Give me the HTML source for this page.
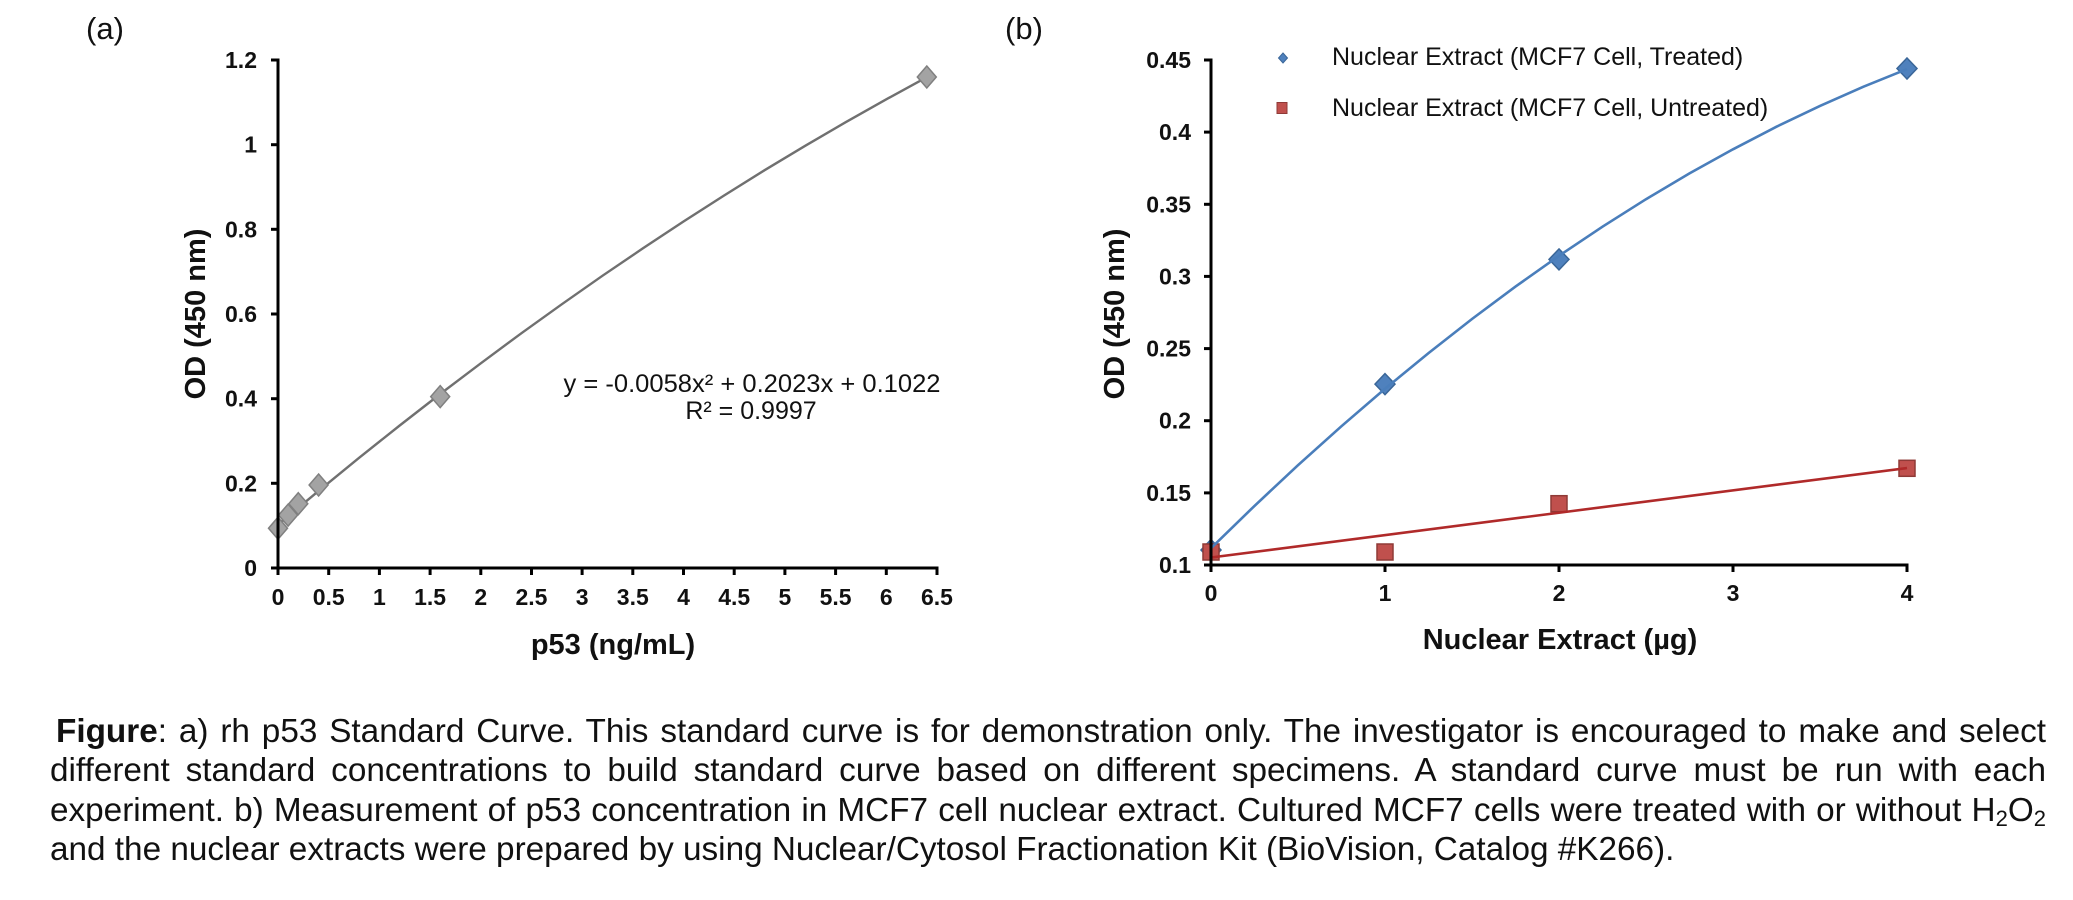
<!DOCTYPE html>
<html>
<head>
<meta charset="utf-8">
<style>
  html, body { margin:0; padding:0; }
  body { width:2073px; height:900px; background:#fff; position:relative; overflow:hidden; }
  svg { position:absolute; left:0; top:0; }
  .cap { position:absolute; font-family:"Liberation Sans", Arial, sans-serif; font-size:33.3px; line-height:40px; color:#111; text-align:justify; text-align-last:justify; }
  .cap b { font-weight:bold; }
  .cap sub { font-size:22px; line-height:0; vertical-align:-5px; }
</style>
</head>
<body>
<svg width="2073" height="900" viewBox="0 0 2073 900" font-family="Liberation Sans, Arial, sans-serif">
  <!-- panel labels -->
  <text x="86" y="39" font-size="31" fill="#111">(a)</text>
  <text x="1005" y="39" font-size="31" fill="#111">(b)</text>

  <!-- ================= Chart A ================= -->
  <polyline fill="none" stroke="#707070" stroke-width="2.4" points="278,524.7 318.6,490.9 359.1,457.8 399.7,425.5 440.2,394.0 480.8,363.3 521.3,333.3 561.9,304.2 602.4,275.8 643.0,248.3 683.5,221.5 724.1,195.5 764.6,170.2 805.2,145.8 845.7,122.2 886.3,99.3 926.8,77.2"/>
  <g fill="#a3a3a3" stroke="#808080" stroke-width="1.5">
    <polygon points="278,517.2 287.5,528.2 278,539.2 268.5,528.2"/>
    <polygon points="288.1,504.1 297.6,515.1 288.1,526.1 278.6,515.1"/>
    <polygon points="298.3,492.7 307.8,503.7 298.3,514.7 288.8,503.7"/>
    <polygon points="318.6,474 328.1,485 318.6,496 309.1,485"/>
    <polygon points="440.2,385.6 449.7,396.6 440.2,407.6 430.7,396.6"/>
    <polygon points="926.8,66 936.3,77 926.8,88 917.3,77"/>
  </g>
  <g stroke="#000" stroke-width="3" fill="none">
    <line x1="278" y1="58.5" x2="278" y2="569.5"/>
    <line x1="276.5" y1="568" x2="938.5" y2="568"/>
    <line x1="271" y1="568" x2="278" y2="568"/>
    <line x1="271" y1="483.3" x2="278" y2="483.3"/>
    <line x1="271" y1="398.7" x2="278" y2="398.7"/>
    <line x1="271" y1="314" x2="278" y2="314"/>
    <line x1="271" y1="229.3" x2="278" y2="229.3"/>
    <line x1="271" y1="144.7" x2="278" y2="144.7"/>
    <line x1="271" y1="60" x2="278" y2="60"/>
    <line x1="278" y1="568" x2="278" y2="575"/>
    <line x1="328.7" y1="568" x2="328.7" y2="575"/>
    <line x1="379.4" y1="568" x2="379.4" y2="575"/>
    <line x1="430.1" y1="568" x2="430.1" y2="575"/>
    <line x1="480.8" y1="568" x2="480.8" y2="575"/>
    <line x1="531.5" y1="568" x2="531.5" y2="575"/>
    <line x1="582.1" y1="568" x2="582.1" y2="575"/>
    <line x1="632.8" y1="568" x2="632.8" y2="575"/>
    <line x1="683.5" y1="568" x2="683.5" y2="575"/>
    <line x1="734.2" y1="568" x2="734.2" y2="575"/>
    <line x1="784.9" y1="568" x2="784.9" y2="575"/>
    <line x1="835.6" y1="568" x2="835.6" y2="575"/>
    <line x1="886.3" y1="568" x2="886.3" y2="575"/>
    <line x1="937" y1="568" x2="937" y2="575"/>
  </g>
  <g font-size="23" font-weight="bold" fill="#111" text-anchor="end">
    <text x="257" y="576">0</text>
    <text x="257" y="491.3">0.2</text>
    <text x="257" y="406.7">0.4</text>
    <text x="257" y="322">0.6</text>
    <text x="257" y="237.3">0.8</text>
    <text x="257" y="152.7">1</text>
    <text x="257" y="68">1.2</text>
  </g>
  <g font-size="23" font-weight="bold" fill="#111" text-anchor="middle">
    <text x="278" y="605">0</text>
    <text x="328.7" y="605">0.5</text>
    <text x="379.4" y="605">1</text>
    <text x="430.1" y="605">1.5</text>
    <text x="480.8" y="605">2</text>
    <text x="531.5" y="605">2.5</text>
    <text x="582.1" y="605">3</text>
    <text x="632.8" y="605">3.5</text>
    <text x="683.5" y="605">4</text>
    <text x="734.2" y="605">4.5</text>
    <text x="784.9" y="605">5</text>
    <text x="835.6" y="605">5.5</text>
    <text x="886.3" y="605">6</text>
    <text x="937" y="605">6.5</text>
  </g>
  <text x="613" y="654" font-size="29" font-weight="bold" fill="#111" text-anchor="middle">p53 (ng/mL)</text>
  <text transform="translate(205,314) rotate(-90)" font-size="29" font-weight="bold" fill="#111" text-anchor="middle">OD (450 nm)</text>
  <g font-size="25" fill="#111" text-anchor="middle">
    <text x="752" y="392" textLength="377" lengthAdjust="spacingAndGlyphs">y = -0.0058x² + 0.2023x + 0.1022</text>
    <text x="751" y="419">R² = 0.9997</text>
  </g>

  <!-- ================= Chart B ================= -->
  <g fill="#4f81bd" stroke="#3a6698" stroke-width="1.5">
    <polygon points="1211,539.5 1221,550 1211,560.5 1201,550"/>
    <polygon points="1385,373.6 1395,384.1 1385,394.6 1375,384.1"/>
    <polygon points="1559,248.9 1569,259.4 1559,269.9 1549,259.4"/>
    <polygon points="1907,58 1917,68.5 1907,79 1897,68.5"/>
  </g>
  <g fill="#c0504d" stroke="#8f3a37" stroke-width="1.5">
    <rect x="1203" y="544" width="16" height="16"/>
    <rect x="1377" y="544" width="16" height="16"/>
    <rect x="1551" y="495.7" width="16" height="16"/>
    <rect x="1899" y="460.3" width="16" height="16"/>
  </g>
  <polyline fill="none" stroke="#4a7ebb" stroke-width="2.6" points="1211,548.2 1254.5,505.9 1298,465.2 1341.5,426.2 1385,388.8 1428.5,353.1 1472,319.0 1515.5,286.6 1559,255.8 1602.5,226.7 1646,199.2 1689.5,173.4 1733,149.3 1776.5,126.7 1820,105.9 1863.5,86.7 1907,69.1"/>
  <line x1="1211" y1="557.5" x2="1907" y2="468" stroke="#b02a2a" stroke-width="2.6"/>
  <g stroke="#000" stroke-width="3" fill="none">
    <line x1="1211" y1="58.5" x2="1211" y2="566.5"/>
    <line x1="1209.5" y1="565" x2="1908.5" y2="565"/>
    <line x1="1204" y1="565" x2="1211" y2="565"/>
    <line x1="1204" y1="492.9" x2="1211" y2="492.9"/>
    <line x1="1204" y1="420.7" x2="1211" y2="420.7"/>
    <line x1="1204" y1="348.6" x2="1211" y2="348.6"/>
    <line x1="1204" y1="276.4" x2="1211" y2="276.4"/>
    <line x1="1204" y1="204.3" x2="1211" y2="204.3"/>
    <line x1="1204" y1="132.1" x2="1211" y2="132.1"/>
    <line x1="1204" y1="60" x2="1211" y2="60"/>
    <line x1="1211" y1="565" x2="1211" y2="572"/>
    <line x1="1385" y1="565" x2="1385" y2="572"/>
    <line x1="1559" y1="565" x2="1559" y2="572"/>
    <line x1="1733" y1="565" x2="1733" y2="572"/>
    <line x1="1907" y1="565" x2="1907" y2="572"/>
  </g>
  <g font-size="23" font-weight="bold" fill="#111" text-anchor="end">
    <text x="1191" y="573">0.1</text>
    <text x="1191" y="500.9">0.15</text>
    <text x="1191" y="428.7">0.2</text>
    <text x="1191" y="356.6">0.25</text>
    <text x="1191" y="284.4">0.3</text>
    <text x="1191" y="212.3">0.35</text>
    <text x="1191" y="140.1">0.4</text>
    <text x="1191" y="68">0.45</text>
  </g>
  <g font-size="23" font-weight="bold" fill="#111" text-anchor="middle">
    <text x="1211" y="601">0</text>
    <text x="1385" y="601">1</text>
    <text x="1559" y="601">2</text>
    <text x="1733" y="601">3</text>
    <text x="1907" y="601">4</text>
  </g>
  <text x="1560" y="649" font-size="29" font-weight="bold" fill="#111" text-anchor="middle">Nuclear Extract (µg)</text>
  <text transform="translate(1124,314) rotate(-90)" font-size="29" font-weight="bold" fill="#111" text-anchor="middle">OD (450 nm)</text>
  <polygon points="1283,53 1287.5,58 1283,63 1278.5,58" fill="#4f81bd" stroke="#3a6698" stroke-width="1"/>
  <rect x="1277" y="102.5" width="10" height="11" fill="#c0504d" stroke="#8f3a37" stroke-width="1"/>
  <g font-size="25" fill="#111">
    <text x="1332" y="65">Nuclear Extract (MCF7 Cell, Treated)</text>
    <text x="1332" y="116">Nuclear Extract (MCF7 Cell, Untreated)</text>
  </g>
</svg>

<div class="cap" style="left:56px; width:1990px; top:712px;"><b>Figure</b>: a) rh p53 Standard Curve. This standard curve is for demonstration only. The investigator is encouraged to make and select</div>
<div class="cap" style="left:50px; width:1996px; top:751px;">different standard concentrations to build standard curve based on different specimens. A standard curve must be run with each</div>
<div class="cap" style="left:50px; width:1996px; top:791px;">experiment. b) Measurement of p53 concentration in MCF7 cell nuclear extract. Cultured MCF7 cells were treated with or without H<sub>2</sub>O<sub>2</sub></div>
<div class="cap" style="left:50px; width:1996px; top:830px; text-align:left; text-align-last:left;">and the nuclear extracts were prepared by using Nuclear/Cytosol Fractionation Kit (BioVision, Catalog #K266).</div>
</body>
</html>
